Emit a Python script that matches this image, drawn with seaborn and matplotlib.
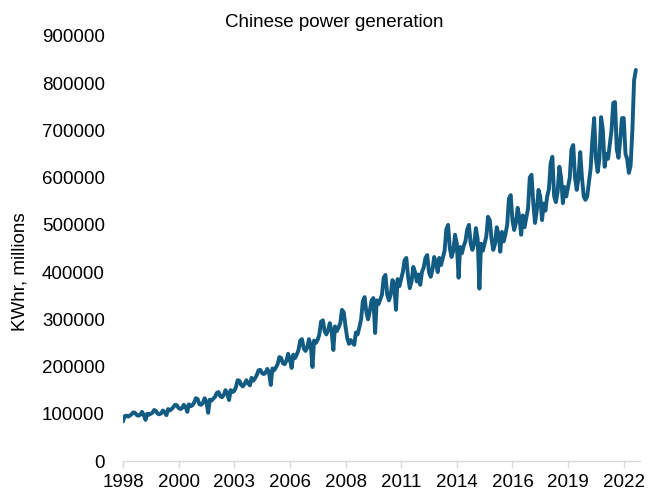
import pandas as pd
import matplotlib.pyplot as plt
import matplotlib.dates as mdates
import seaborn as sns

# Monthly Chinese power generation, KWhr millions
y1998 = [84000, 95000, 96000, 94000, 96000, 99000, 103000, 102000, 97000, 96000, 98000, 104000]
y1999 = [97000, 87000, 100000, 98000, 100000, 102000, 108000, 106000, 100000, 99000, 101000, 107000]
y2000 = [103000, 97000, 110000, 107000, 110000, 114000, 119000, 118000, 112000, 110000, 112000, 119000]
y2001 = [115000, 104000, 120000, 116000, 118000, 124000, 133000, 131000, 120000, 119000, 123000, 133000]
y2002 = [125000, 102000, 130000, 128000, 132000, 136000, 144000, 146000, 137000, 135000, 140000, 150000]
y2003 = [143000, 129000, 150000, 146000, 148000, 156000, 171000, 170000, 161000, 158000, 163000, 171000]
y2004 = [165000, 160000, 176000, 170000, 175000, 182000, 192000, 193000, 186000, 184000, 187000, 195000]
y2005 = [188000, 161000, 196000, 192000, 198000, 205000, 220000, 218000, 207000, 205000, 212000, 227000]
y2006 = [215000, 197000, 225000, 218000, 225000, 235000, 255000, 258000, 238000, 233000, 240000, 258000]
y2007 = [245000, 199000, 255000, 250000, 256000, 268000, 295000, 298000, 275000, 268000, 277000, 292000]
y2008 = [275000, 235000, 285000, 275000, 282000, 292000, 320000, 315000, 285000, 260000, 248000, 256000]
y2009 = [250000, 246000, 272000, 268000, 283000, 300000, 338000, 347000, 315000, 300000, 318000, 340000]
y2010 = [345000, 271000, 340000, 332000, 342000, 352000, 388000, 394000, 352000, 340000, 352000, 383000]
y2011 = [375000, 320000, 385000, 370000, 385000, 400000, 425000, 430000, 390000, 366000, 380000, 411000]
y2012 = [400000, 380000, 395000, 373000, 400000, 410000, 430000, 436000, 400000, 390000, 405000, 432000]
y2013 = [420000, 400000, 430000, 415000, 430000, 445000, 490000, 500000, 450000, 432000, 445000, 479000]
y2014 = [460000, 388000, 453000, 440000, 455000, 465000, 490000, 500000, 460000, 447000, 460000, 493000]
y2015 = [470000, 365000, 460000, 445000, 460000, 475000, 517000, 510000, 470000, 447000, 460000, 495000]
y2016 = [480000, 443000, 485000, 465000, 480000, 500000, 555000, 563000, 510000, 489000, 505000, 536000]
y2017 = [515000, 479000, 520000, 495000, 515000, 535000, 600000, 606000, 545000, 504000, 530000, 574000]
y2018 = [560000, 510000, 545000, 530000, 560000, 575000, 630000, 644000, 560000, 548000, 570000, 623000]
y2019 = [600000, 546000, 580000, 560000, 580000, 600000, 660000, 669000, 600000, 574000, 600000, 654000]
y2020 = [600000, 560000, 553000, 560000, 590000, 620000, 680000, 726000, 640000, 612000, 640000, 728000]
y2021 = [700000, 623000, 650000, 640000, 670000, 700000, 758000, 760000, 660000, 642000, 680000, 726000]
y2022 = [726000, 650000, 640000, 610000, 625000, 700000, 806000, 828000]

values = (y1998 + y1999 + y2000 + y2001 + y2002 + y2003 + y2004 + y2005 + y2006 + y2007
          + y2008 + y2009 + y2010 + y2011 + y2012 + y2013 + y2014 + y2015 + y2016
          + y2017 + y2018 + y2019 + y2020 + y2021 + y2022)

df = pd.DataFrame({
    'month': pd.date_range('1998-01-01', periods=len(values), freq='MS'),
    'gen': values,
})

sns.set_style('white')
plt.rcParams['font.family'] = ['Liberation Sans', 'DejaVu Sans']
plt.rcParams['text.color'] = 'black'
plt.rcParams['xtick.labelcolor'] = 'black'
plt.rcParams['ytick.labelcolor'] = 'black'

fig = plt.figure(figsize=(6.61, 4.92), dpi=100)
ax = fig.add_axes([0.186, 0.063, 0.782, 0.864])

sns.lineplot(data=df, x='month', y='gen', ax=ax, color='#125b82', linewidth=2.8)

ax.set_ylim(0, 900000)
ax.set_yticks(range(0, 900001, 100000))
ax.set_xlim(pd.Timestamp('1998-01-01'), pd.Timestamp('2022-10-10'))

# Excel-style date ticks every 32 months, labelled by year
ticks = pd.date_range('1998-01-01', periods=10, freq='32MS')
ax.set_xticks(ticks)
ax.xaxis.set_major_formatter(mdates.DateFormatter('%Y'))

ax.tick_params(axis='x', labelsize=13.5, colors='#d9d9d9', labelcolor='black',
               length=5, width=1, direction='out', bottom=True, pad=4)
ax.tick_params(axis='y', labelsize=13.5, length=0, pad=13, labelcolor='black')

for s in ['top', 'right', 'left']:
    ax.spines[s].set_visible(False)
ax.spines['bottom'].set_color('#d9d9d9')
ax.spines['bottom'].set_linewidth(1)

ax.set_xlabel('')
ax.set_ylabel('')
fig.text(0.505, 0.955, 'Chinese power generation', ha='center', va='center',
         fontsize=13.5, color='black')
fig.text(0.030, 0.447, 'KWhr, millions', ha='center', va='center', rotation=90,
         fontsize=13.5, color='black')

plt.savefig('out.png', dpi=100)
